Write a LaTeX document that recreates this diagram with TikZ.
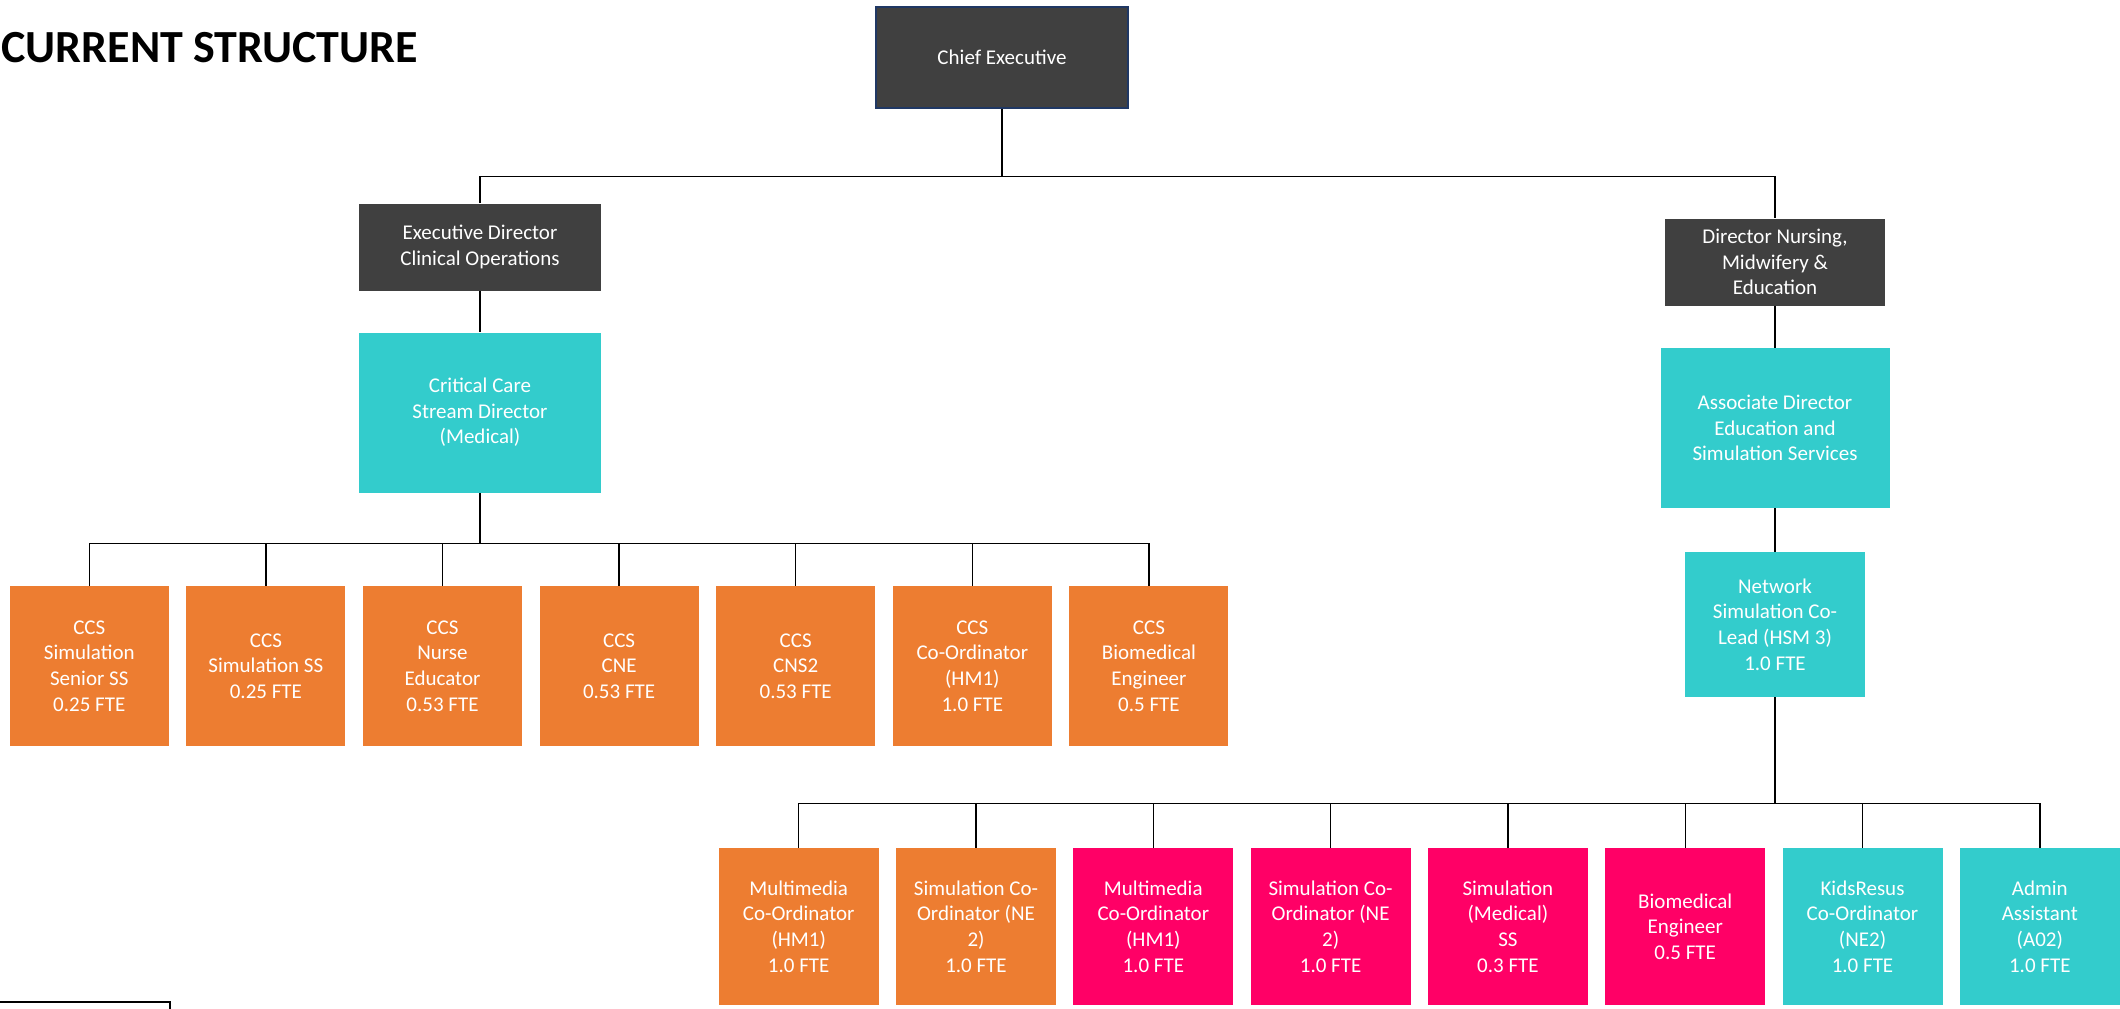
\documentclass[tikz,border=0pt]{standalone}
\usepackage{fontspec}
\setmainfont{Carlito}
\definecolor{SimOrange}{RGB}{237,125,49}
\definecolor{SimPink}{RGB}{255,0,102}
\definecolor{SimTeal}{RGB}{51,204,204}
\definecolor{SimGrey}{RGB}{64,64,64}
\definecolor{SimNavy}{RGB}{32,56,100}

\begin{document}
\begin{tikzpicture}[x=0.5pt, y=-0.5pt,
  link/.style={draw=black, line width=0.7pt},
  box/.style={text=white, align=center, inner sep=0pt, font=\fontsize{10.5}{12.8}\selectfont},
  darkbox/.style={box, fill=SimGrey},
  tealbox/.style={box, fill=SimTeal},
  ccsbox/.style={box, fill=SimOrange, minimum width=79.5pt, minimum height=80pt},
  simbox/.style={box, fill=#1, minimum width=80pt, minimum height=78.5pt}]
  \useasboundingbox (0,0) rectangle (2120,1008);
  \node[font=\fontsize{23}{27}\selectfont\bfseries, anchor=west, inner sep=0pt] (title) at (1,48) {CURRENT STRUCTURE};
  \node[darkbox, draw=SimNavy, line width=1pt, minimum width=126pt, minimum height=50.5pt] (ce) at (1002,57) {Chief Executive};
  \node[darkbox, minimum width=121pt, minimum height=43.5pt] (ed) at (480,247) {Executive Director\\Clinical Operations};
  \node[tealbox, minimum width=121pt, minimum height=80pt] (cc) at (480,412.5) {Critical Care\\Stream Director\\(Medical)};
  \node[darkbox, minimum width=110pt, minimum height=43.5pt] (dn) at (1775,262) {Director Nursing,\\Midwifery \&\\Education};
  \node[tealbox, minimum width=114.5pt, minimum height=80pt] (ad) at (1775,428) {Associate Director\\Education and\\Simulation Services};
  \node[tealbox, minimum width=90pt, minimum height=72.5pt] (nw) at (1775,624.5) {Network\\Simulation Co-\\Lead (HSM 3)\\1.0 FTE};
  \foreach \txt [count=\i] in {{CCS\\Simulation\\Senior SS\\0.25 FTE}, {CCS\\Simulation SS\\0.25 FTE},
      {CCS\\Nurse\\Educator\\0.53 FTE}, {CCS\\CNE\\0.53 FTE}, {CCS\\CNS2\\0.53 FTE},
      {CCS\\Co-Ordinator\\(HM1)\\1.0 FTE}, {CCS\\Biomedical\\Engineer\\0.5 FTE}}
    \node[ccsbox] (ccs\i) at ({89.3+(\i-1)*176.6},666) {\txt};
  \foreach \col/\txt [count=\i] in {SimOrange/{Multimedia\\Co-Ordinator\\(HM1)\\1.0 FTE},
      SimOrange/{Simulation Co-\\Ordinator (NE\\2)\\1.0 FTE},
      SimPink/{Multimedia\\Co-Ordinator\\(HM1)\\1.0 FTE},
      SimPink/{Simulation Co-\\Ordinator (NE\\2)\\1.0 FTE},
      SimPink/{Simulation\\(Medical)\\SS\\0.3 FTE},
      SimPink/{Biomedical\\Engineer\\0.5 FTE},
      SimTeal/{KidsResus\\Co-Ordinator\\(NE2)\\1.0 FTE},
      SimTeal/{Admin\\Assistant\\(A02)\\1.0 FTE}}
    \node[simbox=\col] (sim\i) at ({798.7+(\i-1)*177.3},926.5) {\txt};
  \draw[link] (ce.south) -- ++(0,68) coordinate (bus1);
  \draw[link] (ed.north) |- (bus1) -| (dn.north);
  \draw[link] (ed.south) -- (cc.north);
  \draw[link] (dn.south) -- (ad.north);
  \draw[link] (ad.south) -- (nw.north);
  \draw[link] (cc.south) -- ++(0,50.5) coordinate (bus2);
  \draw[link] (ccs1.north |- bus2) -- (ccs7.north |- bus2);
  \foreach \i in {1,...,7}
    \draw[link] (ccs\i.north) -- (ccs\i.north |- bus2);
  \draw[link] (nw.south) -- ++(0,106) coordinate (bus3);
  \draw[link] (sim1.north |- bus3) -- (sim8.north |- bus3);
  \foreach \i in {1,...,8}
    \draw[link] (sim\i.north) -- (sim\i.north |- bus3);
  \draw[line width=1.2pt] (0,1002) -- (170,1002) -- (170,1020);
\end{tikzpicture}
\end{document}
